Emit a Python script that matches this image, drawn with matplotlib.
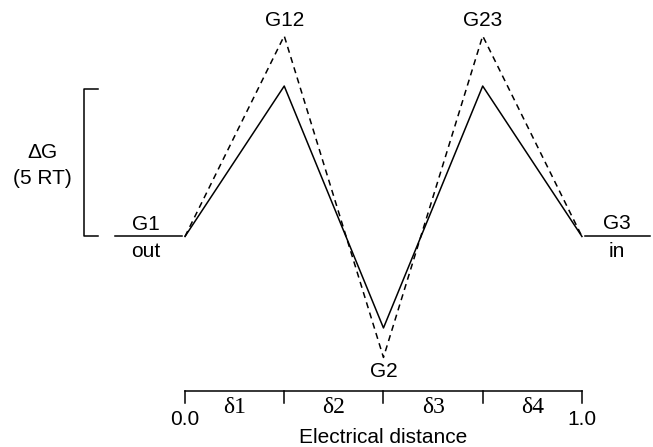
import matplotlib
matplotlib.use('Agg')
import matplotlib.pyplot as plt

# 数据: 电学距离位置与自由能 (单位 RT)
positions = [0.0, 0.25, 0.5, 0.75, 1.0]
solid_G = [0, 5.1, -3.1, 5.1, 0]
dashed_G = [0, 6.8, -4.1, 6.8, 0]
peak_labels = ['G12', 'G2', 'G23']
delta_labels = ['δ1', 'δ2', 'δ3', 'δ4']
scale_RT = 5

plt.rcParams['font.family'] = ['Liberation Sans', 'DejaVu Sans']
fs = 15

fig = plt.figure(figsize=(6.53, 4.47), dpi=100)
ax = fig.add_axes([0, 0, 1, 1])
ax.set_xlim(-0.466, 1.179)
ax.set_ylim(-7.136, 8.017)
ax.axis('off')

# 能量曲线
ax.plot(positions, solid_G, color='black', lw=1.1)
ax.plot(positions, dashed_G, color='black', lw=1.1, ls=(0, (4, 3)))

# 两端平台 G1 / G3
ax.plot([-0.176, -0.008], [solid_G[0], solid_G[0]], color='black', lw=1.1)
ax.plot([1.008, 1.171], [solid_G[-1], solid_G[-1]], color='black', lw=1.1)
ax.text(-0.098, 0.40, 'G1', ha='center', va='center', fontsize=fs)
ax.text(-0.098, -0.52, 'out', ha='center', va='center', fontsize=fs)
ax.text(1.088, 0.43, 'G3', ha='center', va='center', fontsize=fs)
ax.text(1.088, -0.52, 'in', ha='center', va='center', fontsize=fs)

# 峰谷标签
ax.text(positions[1], 7.32, peak_labels[0], ha='center', va='center', fontsize=fs)
ax.text(positions[2], -4.59, peak_labels[1], ha='center', va='center', fontsize=fs)
ax.text(positions[3], 7.32, peak_labels[2], ha='center', va='center', fontsize=fs)

# 比例尺 ΔG (5 RT)
bx, bt = -0.254, -0.219
ax.plot([bt, bx, bx, bt], [scale_RT, scale_RT, 0, 0], color='black', lw=1.1)
ax.text(-0.360, 2.86, 'ΔG', ha='center', va='center', fontsize=fs)
ax.text(-0.360, 1.98, '(%d RT)' % scale_RT, ha='center', va='center', fontsize=fs)

# 电学距离坐标轴
y_axis = -5.24
y_tick = -5.64
ax.plot([positions[0], positions[-1]], [y_axis, y_axis], color='black', lw=1.1)
for p in positions:
    ax.plot([p, p], [y_axis, y_tick], color='black', lw=1.1)
for i, lab in enumerate(delta_labels):
    mid = (positions[i] + positions[i + 1]) / 2
    ax.text(mid, -5.80, lab, ha='center', va='center', fontsize=17,
            family=['Liberation Serif', 'DejaVu Serif'])
ax.text(positions[0], -6.22, '0.0', ha='center', va='center', fontsize=fs)
ax.text(positions[-1], -6.22, '1.0', ha='center', va='center', fontsize=fs)
ax.text(0.5, -6.80, 'Electrical distance', ha='center', va='center', fontsize=fs)

fig.savefig('out.png', dpi=100)
